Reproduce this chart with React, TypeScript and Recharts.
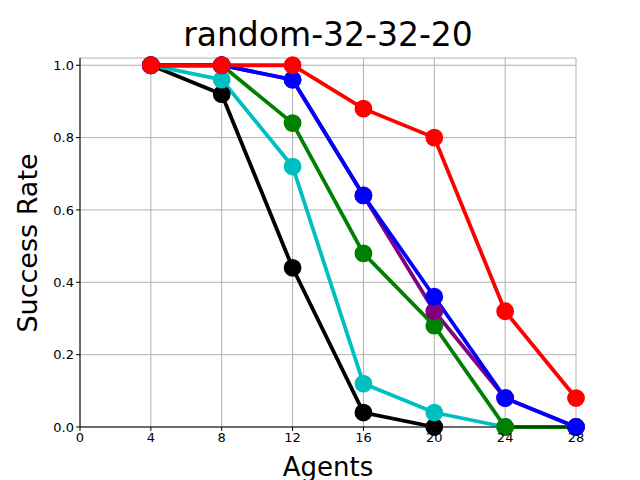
import React from 'react';
import { LineChart, Line, XAxis, YAxis, CartesianGrid } from 'recharts';

const agents = [4, 8, 12, 16, 20, 24, 28];
const black = [1.0, 0.92, 0.44, 0.04, 0.0, null, null];
const cyan = [1.0, 0.96, 0.72, 0.12, 0.04, 0.0, null];
const green = [1.0, 1.0, 0.84, 0.48, 0.28, 0.0, 0.0];
const purple = [1.0, 1.0, 0.96, 0.64, 0.32, 0.08, 0.0];
const blue = [1.0, 1.0, 0.96, 0.64, 0.36, 0.08, 0.0];
const red = [1.0, 1.0, 1.0, 0.88, 0.8, 0.32, 0.08];
const xTicks = [0, 4, 8, 12, 16, 20, 24, 28];
const yTicks = [0, 0.2, 0.4, 0.6, 0.8, 1.0];

const data = agents.map((a, i) => ({ a, black: black[i], cyan: cyan[i], green: green[i], purple: purple[i], blue: blue[i], red: red[i] }));
const series: [string, string][] = [['black', '#000000'], ['cyan', '#00bfbf'], ['green', '#008000'], ['purple', '#800080'], ['blue', '#0000ff'], ['red', '#ff0000']];
const tickStyle = { fill: '#000', fontSize: 13, fontFamily: 'DejaVu Sans' };

export default function App() {
  return (
    <div style={{ position: 'absolute', left: 0, top: 0, width: 640, height: 480, background: '#fff', fontFamily: 'DejaVu Sans' }}>
      <div style={{ position: 'absolute', top: 15, width: 656, textAlign: 'center', fontSize: 33, lineHeight: '40px' }}>random-32-32-20</div>
      <div style={{ position: 'absolute', top: 451, width: 656, textAlign: 'center', fontSize: 26, lineHeight: '32px' }}>Agents</div>
      <div style={{ position: 'absolute', left: 27, top: 243, width: 0, height: 0 }}>
        <div style={{ position: 'absolute', transform: 'translate(-50%,-50%) rotate(-90deg)', whiteSpace: 'nowrap', fontSize: 27 }}>Success Rate</div>
      </div>
      <LineChart width={640} height={480} data={data} margin={{ top: 58, right: 64, bottom: 3, left: 30 }} style={{ position: 'absolute', left: 0, top: 0 }}>
        <CartesianGrid stroke="#b0b0b0" strokeWidth={1} xAxisId="b" yAxisId="l" />
        <XAxis xAxisId="b" dataKey="a" type="number" domain={[0, 28]} ticks={xTicks} height={50} tick={tickStyle} stroke="#000" tickSize={4} interval={0} />
        <XAxis xAxisId="t" orientation="top" dataKey="a" type="number" domain={[0, 28]} tick={false} height={0} stroke="#000" tickLine={false} />
        <YAxis yAxisId="l" type="number" domain={[0, 1.02]} ticks={yTicks} width={50} tick={tickStyle} stroke="#000" tickSize={4} tickFormatter={(v: number) => v.toFixed(1)} interval={0} />
        <YAxis yAxisId="r" orientation="right" type="number" domain={[0, 1.02]} tick={false} width={0} stroke="#000" tickLine={false} />
        {series.map(([k, c]) => (
          <Line key={k} xAxisId="b" yAxisId="l" dataKey={k} stroke={c} strokeWidth={3.8} dot={{ r: 7, fill: c, stroke: c }} isAnimationActive={false} connectNulls={false} />
        ))}
      </LineChart>
    </div>
  );
}
